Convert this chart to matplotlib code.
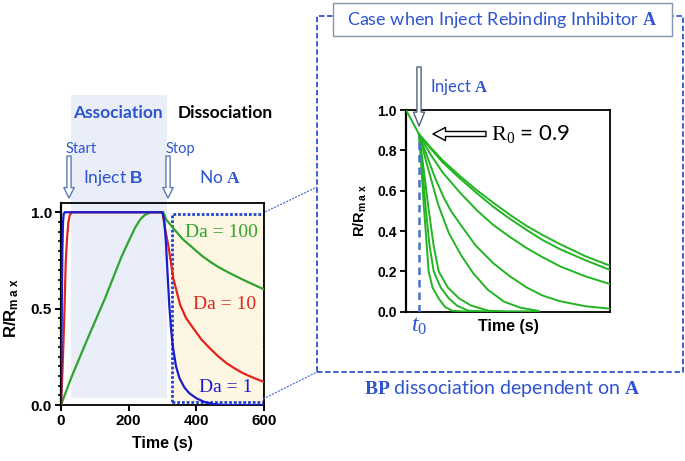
from __future__ import annotations

import matplotlib

matplotlib.use("Agg")
import matplotlib.pyplot as plt
from matplotlib.patches import FancyArrowPatch, Rectangle
from matplotlib.lines import Line2D

W, H = 685, 461

# ---- left panel: association / dissociation traces (time s, R/Rmax) ----
t_da1 = [0, 2, 4, 6, 8, 11, 300, 305, 310, 315, 320, 325, 330, 340, 350, 365, 380, 400, 425, 450, 480, 600]
r_da1 = [0, 0.45, 0.8, 0.95, 0.99, 1.0, 1.0, 0.96, 0.85, 0.68, 0.52, 0.40, 0.31, 0.20, 0.14, 0.09, 0.06, 0.035, 0.015, 0.005, 0.0, 0.0]

t_da10 = [0, 3, 7, 10, 14, 18, 22, 26, 31, 300, 308, 317, 332, 352, 370, 391, 415, 440, 465, 490, 515, 539, 570, 600]
r_da10 = [0, 0.12, 0.31, 0.48, 0.74, 0.87, 0.95, 0.985, 1.0, 1.0, 0.91, 0.83, 0.657, 0.52, 0.45, 0.398, 0.34, 0.294, 0.252, 0.216, 0.188, 0.164, 0.14, 0.12]

t_da100 = [0, 31.5, 80, 130, 179, 200, 219, 235, 248, 265, 300, 302, 312, 332, 360, 391, 415, 440, 465, 490, 515, 539, 570, 600]
r_da100 = [0, 0.147, 0.35, 0.553, 0.77, 0.85, 0.92, 0.965, 0.986, 1.0, 1.0, 1.0, 0.96, 0.917, 0.86, 0.813, 0.776, 0.744, 0.716, 0.692, 0.67, 0.649, 0.624, 0.6]

left_labels = ["Da = 100", "Da = 10", "Da = 1"]
left_label_pos = [(473, 0.894), (482, 0.523), (487, 0.092)]

assoc_band_px = (71, 95, 167, 398)          # x0, y0, x1, y1 in pixels
dissoc_box = (327, 0.017, 600, 0.991)       # data coords

# ---- right panel: dissociation with rebinding inhibitor ----
x_pre = [0, 6.4]
y_pre = [1.0, 0.88]
t0 = 6.4

slow_x = [6.4, 12, 18, 26.5, 35, 42.8, 51, 59.2, 67, 75.5, 88, 100]
c1_y = [0.88, 0.815, 0.75, 0.672, 0.60, 0.54, 0.48, 0.425, 0.38, 0.335, 0.275, 0.228]
c2_y = [0.88, 0.81, 0.74, 0.66, 0.585, 0.52, 0.46, 0.405, 0.355, 0.31, 0.255, 0.207]
c3_y = [0.88, 0.78, 0.69, 0.59, 0.50, 0.43, 0.37, 0.315, 0.27, 0.225, 0.175, 0.137]

c4_x = [6.4, 10, 14, 18.3, 22, 26.5, 34, 42.8, 51, 59.2, 67, 75.5, 88, 100]
c4_y = [0.88, 0.78, 0.67, 0.57, 0.50, 0.435, 0.33, 0.24, 0.175, 0.12, 0.08, 0.052, 0.027, 0.015]

c5_x = [6.4, 10, 15.8, 21, 27, 33, 40, 48, 56, 65]
c5_y = [0.88, 0.74, 0.53, 0.39, 0.28, 0.19, 0.11, 0.05, 0.02, 0.004]
c6_x = [6.4, 8.5, 10.8, 13.5, 16, 20.5, 26, 32, 40.4, 50, 65]
c6_y = [0.88, 0.72, 0.53, 0.33, 0.2, 0.12, 0.066, 0.03, 0.005, 0.0, 0.0]
c7_x = [6.4, 8, 9.5, 11.5, 13.6, 17, 21, 25, 30.5, 40, 65]
c7_y = [0.88, 0.72, 0.53, 0.33, 0.2, 0.12, 0.066, 0.03, 0.005, 0.0, 0.0]
c8_x = [6.4, 7.5, 8.7, 10, 11.1, 13, 16, 19, 22.5, 30, 65]
c8_y = [0.88, 0.72, 0.53, 0.35, 0.2, 0.12, 0.066, 0.025, 0.005, 0.0, 0.0]

BLUE_TXT = "#2e54d0"
C_BLUE = "#1c1ccf"
C_RED = "#e3241b"
C_GREEN = "#2ea42e"
C_GREEN2 = "#22b422"


def fx(x: float) -> float:
    return x / W


def fy(y: float) -> float:
    return 1 - y / H


def hollow_arrow(fig, p0, p1, tail, head_w, head_l, edge) -> None:
    style = f"simple,head_width={head_w},head_length={head_l},tail_width={tail}"
    arr = FancyArrowPatch((fx(p0[0]), fy(p0[1])), (fx(p1[0]), fy(p1[1])),
                          transform=fig.transFigure, arrowstyle=style,
                          facecolor="white", edgecolor=edge, linewidth=1.0,
                          shrinkA=0, shrinkB=0, zorder=5)
    fig.patches.append(arr)


def style_axes(ax) -> None:
    for side in ["top", "right", "bottom"]:
        ax.spines[side].set_linewidth(1.3)
    ax.spines["left"].set_linewidth(1.6)
    for lab in ax.get_xticklabels() + ax.get_yticklabels():
        lab.set_fontfamily("Liberation Sans")
        lab.set_fontweight("bold")


def draw_left(fig) -> None:
    ax = fig.add_axes([fx(61), fy(405), 203 / W, 202 / H])
    ax.set_facecolor("none")
    ax.set_xlim(0, 600)
    ax.set_ylim(0, 1.048)

    x0, y0, x1, y1 = dissoc_box
    ax.add_patch(Rectangle((x0, y0), x1 - x0, y1 - y0, facecolor="#fdf6e3",
                           edgecolor="#2244cc", linewidth=2.0, linestyle=(0, (1, 0.7)), zorder=1))

    ax.plot(t_da100, r_da100, color=C_GREEN, lw=1.6, zorder=3)
    ax.plot(t_da10, r_da10, color=C_RED, lw=1.6, zorder=3)
    ax.plot(t_da1, r_da1, color=C_BLUE, lw=1.6, zorder=4)

    for text, pos, col in zip(left_labels, left_label_pos, [C_GREEN, C_RED, C_BLUE]):
        ax.text(pos[0], pos[1], text, color=col, fontsize=14, family="Liberation Serif",
                ha="center", va="center", zorder=5)

    ax.set_xticks([0, 200, 400, 600])
    ax.set_yticks([0, 0.5, 1.0])
    ax.set_yticklabels(["0.0", "0.5", "1.0"])
    ax.set_yticks([i * 0.05 for i in range(21)], minor=True)
    ax.tick_params(axis="both", which="major", direction="out", length=4.5, width=1.4, labelsize=11, pad=2)
    ax.tick_params(axis="y", which="minor", direction="out", length=2.5, width=1.2)
    style_axes(ax)

    ax.set_xlabel("Time (s)", fontsize=11.5, fontweight="bold", family="Liberation Sans")
    ax.xaxis.set_label_coords(0.5, -0.155)
    ax.set_ylabel(r"R/R$_{\mathsf{m\ a\ x}}$", fontsize=12, fontweight="bold", family="Liberation Sans")
    ax.yaxis.set_label_coords(-0.195, 0.48)


def draw_right(fig) -> None:
    ax = fig.add_axes([fx(406), fy(311.7), 204 / W, 201.7 / H])
    ax.set_xlim(0, 100)
    ax.set_ylim(0, 1.0)

    ax.plot(x_pre, y_pre, color=C_GREEN2, lw=1.4, zorder=3)
    for xs, ys in [(slow_x, c1_y), (slow_x, c2_y), (slow_x, c3_y), (c4_x, c4_y),
                   (c5_x, c5_y), (c6_x, c6_y), (c7_x, c7_y), (c8_x, c8_y)]:
        ax.plot(xs, ys, color=C_GREEN2, lw=1.4, zorder=3)

    ax.plot([t0, t0], [0, 0.87], color="#4a72c4", lw=1.8, linestyle=(0, (3, 2)), zorder=4)

    ax.set_xticks([])
    ax.set_yticks([0, 0.2, 0.4, 0.6, 0.8, 1.0])
    ax.set_yticklabels(["0.0", "0.2", "0.4", "0.6", "0.8", "1.0"])
    ax.tick_params(axis="y", direction="out", length=4.5, width=1.3, labelsize=10, pad=2)
    style_axes(ax)

    ax.set_xlabel("Time (s)", fontsize=11.5, fontweight="bold", family="Liberation Sans")
    ax.xaxis.set_label_coords(0.5, -0.035)
    ax.set_ylabel(r"R/R$_{\mathsf{m\ a\ x}}$", fontsize=10.5, fontweight="bold", family="Liberation Sans")
    ax.yaxis.set_label_coords(-0.18, 0.5)
    ax.text(t0, -0.075, r"$t_{\mathit{0}}$", color=BLUE_TXT, fontsize=17, ha="center", va="center")


def draw_annotations(fig) -> None:
    # association phase shading (extends above the plot)
    x0, y0, x1, y1 = assoc_band_px
    fig.patches.append(Rectangle((fx(x0), fy(y1)), (x1 - x0) / W, (y1 - y0) / H,
                                 transform=fig.transFigure, facecolor="#e9eef8",
                                 edgecolor="none", zorder=-1))

    fig.text(fx(118), fy(113), "Association", color=BLUE_TXT, fontsize=12.5, fontweight="bold",
             ha="center", va="center")
    fig.text(fx(225), fy(113), "Dissociation", color="black", fontsize=12.5, fontweight="bold",
             ha="center", va="center")
    fig.text(fx(66), fy(149), "Start", color=BLUE_TXT, fontsize=10.5, ha="left", va="center")
    fig.text(fx(166), fy(149), "Stop", color=BLUE_TXT, fontsize=10.5, ha="left", va="center")
    fig.text(fx(113), fy(178), r"Inject $\mathsf{B}$", color=BLUE_TXT, fontsize=12.5, ha="center", va="center")
    fig.text(fx(220), fy(177), r"No $\mathbf{A}$", color=BLUE_TXT, fontsize=12.5, ha="center", va="center")

    arrow_edge = "#5b7bb5"
    hollow_arrow(fig, (69, 156), (69, 198), 3.0, 7.5, 7.5, arrow_edge)
    hollow_arrow(fig, (168, 156), (168, 198), 3.0, 7.5, 7.5, arrow_edge)

    # zoom frame on the right
    fig.patches.append(Rectangle((fx(317), fy(371.7)), (682.5 - 317) / W, (371.7 - 16) / H,
                                 transform=fig.transFigure, facecolor="none", edgecolor=BLUE_TXT,
                                 linewidth=1.3, linestyle=(0, (3, 1.5)), zorder=2))
    fig.patches.append(Rectangle((fx(333), fy(36)), (671.5 - 333) / W, (36 - 3) / H,
                                 transform=fig.transFigure, facecolor="white", edgecolor="#8497b0",
                                 linewidth=1.0, zorder=3))
    fig.text(fx(502), fy(20), r"Case when Inject Rebinding Inhibitor $\mathbf{A}$", color=BLUE_TXT,
             fontsize=13, ha="center", va="center", zorder=4)
    fig.text(fx(502), fy(388), r"$\mathbf{BP}$ dissociation dependent on $\mathbf{A}$", color=BLUE_TXT,
             fontsize=14, ha="center", va="center")

    # connector lines
    for (a, b), (c, d) in [((265, 212), (317, 187)), ((263, 399), (317, 372))]:
        fig.add_artist(Line2D([fx(a), fx(c)], [fy(b), fy(d)], transform=fig.transFigure,
                              color="#4a6fd0", lw=0.8, linestyle=(0, (2, 1))))

    # inject A arrow and R0 callout
    hollow_arrow(fig, (419, 67), (419, 126), 3.0, 8.0, 10.0, "#50627e")
    fig.text(fx(430), fy(87), r"Inject $\mathbf{A}$", color=BLUE_TXT, fontsize=12, ha="left", va="center")
    hollow_arrow(fig, (486, 134), (433, 134), 3.6, 9.5, 9.0, "black")
    fig.text(fx(491), fy(134), r"$\mathrm{R}_0$ = 0.9", color="black", fontsize=16, ha="left", va="center")


def main() -> None:
    plt.rcParams["font.family"] = ["Lato", "DejaVu Sans"]
    plt.rcParams["mathtext.fontset"] = "custom"
    plt.rcParams["mathtext.rm"] = "Liberation Serif"
    plt.rcParams["mathtext.it"] = "Liberation Serif:italic"
    plt.rcParams["mathtext.bf"] = "Liberation Serif:bold"
    plt.rcParams["mathtext.sf"] = "Liberation Sans:bold"

    fig = plt.figure(figsize=(W / 100, H / 100), dpi=100)
    draw_left(fig)
    draw_right(fig)
    draw_annotations(fig)
    fig.savefig("out.png", dpi=100)
    plt.close(fig)


if __name__ == "__main__":
    main()
